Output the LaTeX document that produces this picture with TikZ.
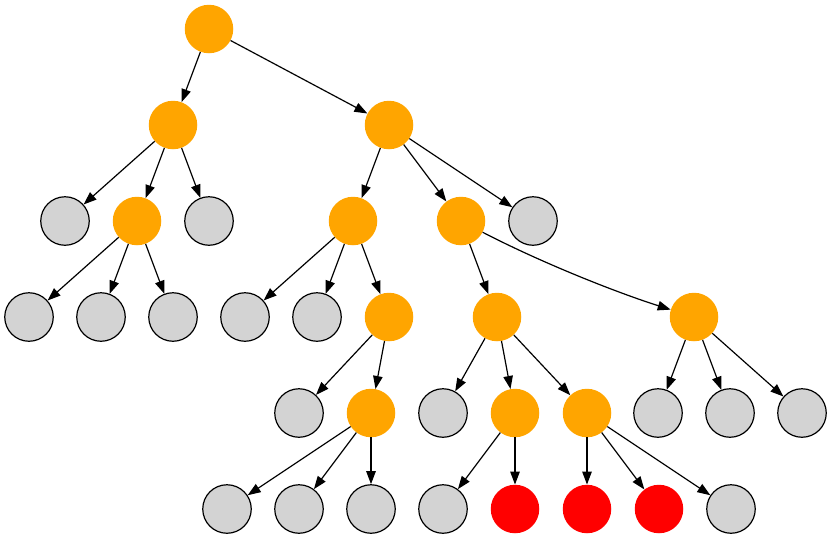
\documentclass[tikz,border=0pt]{standalone}
\usetikzlibrary{arrows.meta}
\definecolor{orng}{HTML}{FFA500}
\definecolor{lgray}{HTML}{D3D3D3}
\definecolor{rd}{HTML}{FF0000}
\begin{document}
\begin{tikzpicture}[x=1pt,y=-1pt,
  base/.style={circle,minimum size=48.5pt,inner sep=0pt},
  onode/.style={base,fill=orng},
  gnode/.style={base,fill=lgray,draw=black,line width=1.2pt},
  rnode/.style={base,fill=rd},
  edge/.style={draw=black,line width=1.2pt,-{Triangle[length=13pt,width=9.5pt]}}]
\useasboundingbox (0,0) rectangle (832,539);
\node[onode] (r) at (209,29) {};
\node[onode] (a) at (173,125) {};
\node[onode] (b) at (389,125) {};
\node[gnode] (a1) at (65,221) {};
\node[onode] (a2) at (137,221) {};
\node[gnode] (a3) at (209,221) {};
\node[onode] (b1) at (353,221) {};
\node[onode] (b2) at (461,221) {};
\node[gnode] (b3) at (533,221) {};
\node[gnode] (a21) at (29,317) {};
\node[gnode] (a22) at (101,317) {};
\node[gnode] (a23) at (173,317) {};
\node[gnode] (b11) at (245,317) {};
\node[gnode] (b12) at (317,317) {};
\node[onode] (c) at (389,317) {};
\node[onode] (d) at (497,317) {};
\node[onode] (e) at (694,317) {};
\node[gnode] (c1) at (299,413) {};
\node[onode] (f) at (371,413) {};
\node[gnode] (d1) at (443,413) {};
\node[onode] (g) at (515,413) {};
\node[onode] (h) at (587,413) {};
\node[gnode] (e1) at (658,413) {};
\node[gnode] (e2) at (730,413) {};
\node[gnode] (e3) at (802,413) {};
\node[gnode] (f1) at (227,509) {};
\node[gnode] (f2) at (299,509) {};
\node[gnode] (f3) at (371,509) {};
\node[gnode] (g1) at (443,509) {};
\node[rnode] (g2) at (515,509) {};
\node[rnode] (h1) at (587,509) {};
\node[rnode] (h2) at (659,509) {};
\node[gnode] (h3) at (731,509) {};
\foreach \s/\t in {r/a,r/b,a/a1,a/a2,a/a3,b/b1,b/b2,b/b3,a2/a21,a2/a22,a2/a23,
  b1/b11,b1/b12,b1/c,b2/d,c/c1,c/f,d/d1,d/g,d/h,e/e1,e/e2,e/e3,
  f/f1,f/f2,f/f3,g/g1,g/g2,h/h1,h/h2,h/h3}
  \draw[edge] (\s) -- (\t);
\draw[edge] (b2) .. controls (540,262) and (615,292) .. (e);
\end{tikzpicture}
\end{document}
